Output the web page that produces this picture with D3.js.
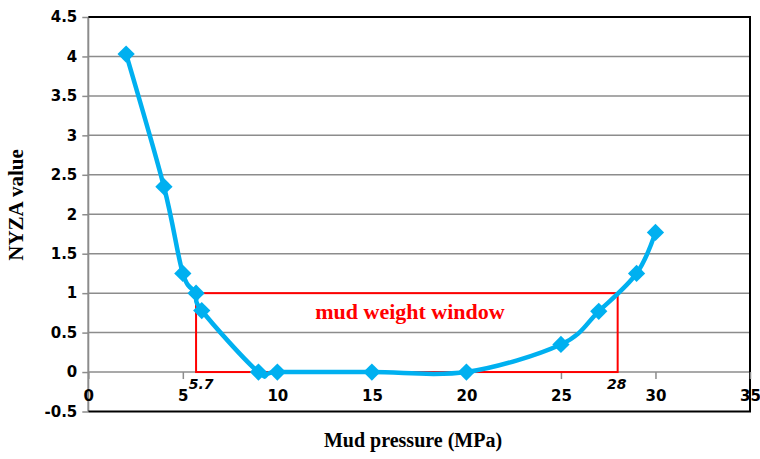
<!DOCTYPE html>
<html>
<head>
<meta charset="utf-8">
<script src="https://cdn.jsdelivr.net/npm/d3@7"></script>
<style>
  body { margin: 0; background: #fff; }
  svg { display: block; }
  .tk { font-family: "DejaVu Sans", sans-serif; font-weight: 700; font-size: 15px; fill: #000; }
</style>
</head>
<body>
<svg id="chart" width="760" height="459"></svg>
<script>
// data
var pressure = [2, 4, 5, 5.7, 6, 9, 10, 15, 20, 25, 27, 29, 30];
var nyza = [4.03, 2.35, 1.25, 1.0, 0.78, 0, 0, 0, 0, 0.35, 0.77, 1.25, 1.77];
var xTicks = [0, 5, 10, 15, 20, 25, 30, 35];
var yTicks = [-0.5, 0, 0.5, 1, 1.5, 2, 2.5, 3, 3.5, 4, 4.5];
var windowLow = 5.7, windowHigh = 28;
var windowTop = 1, windowBottom = 0;

var svg = d3.select("#chart");
var x = d3.scaleLinear().domain([0, 35]).range([88.3, 750]);
var y = d3.scaleLinear().domain([-0.5, 4.5]).range([411.5, 17]);
var serif = "'Liberation Serif', 'DejaVu Serif', serif";

// horizontal grid
svg.append("g").selectAll("line").data(yTicks.filter(function(d){ return d > -0.5 && d < 4.5; }))
  .enter().append("line")
  .attr("x1", x(0)).attr("x2", x(35))
  .attr("y1", function(d){ return y(d); }).attr("y2", function(d){ return y(d); })
  .attr("stroke", "#8c8c8c").attr("stroke-width", 1.5);

// frame: left gray, others black
svg.append("line").attr("x1", x(0)).attr("x2", x(0)).attr("y1", y(4.5)).attr("y2", y(-0.5))
  .attr("stroke", "#8c8c8c").attr("stroke-width", 2);
svg.append("path")
  .attr("d", "M" + x(0) + "," + y(4.5) + "H" + x(35) + "V" + y(-0.5) + "H" + x(0))
  .attr("fill", "none").attr("stroke", "#000").attr("stroke-width", 2);

// y axis ticks + labels
var yAxis = d3.axisLeft(y).tickValues(yTicks).tickSize(6).tickPadding(5)
  .tickFormat(function(d){ return String(d); });
var gy = svg.append("g").attr("transform", "translate(" + x(0) + ",0)").call(yAxis);
gy.select(".domain").remove();
gy.attr("font-family", null).attr("font-size", null);
gy.selectAll("line").attr("stroke", "#8c8c8c").attr("stroke-width", 1.5);
gy.selectAll("text").attr("class", "tk").attr("fill", null);

// x axis on zero line
var xAxis = d3.axisBottom(x).tickValues(xTicks).tickSize(7).tickPadding(11)
  .tickFormat(d3.format("d"));
var gx = svg.append("g").attr("transform", "translate(0," + y(0) + ")").call(xAxis);
gx.select(".domain").remove();
gx.attr("font-family", null).attr("font-size", null);
gx.selectAll("line").attr("stroke", "#8c8c8c").attr("stroke-width", 1.5);
gx.selectAll("text").attr("class", "tk").attr("fill", null);

// mud weight window
svg.append("rect")
  .attr("x", x(windowLow)).attr("y", y(windowTop))
  .attr("width", x(windowHigh) - x(windowLow)).attr("height", y(windowBottom) - y(windowTop))
  .attr("fill", "none").attr("stroke", "#ff0000").attr("stroke-width", 2);

svg.append("text").attr("x", 410).attr("y", 319)
  .attr("text-anchor", "middle").attr("font-family", serif).attr("font-weight", "bold")
  .attr("font-size", 22).attr("fill", "#ff0000").text("mud weight window");

svg.append("text").attr("class", "tk").attr("x", x(windowLow) + 5).attr("y", 389)
  .attr("text-anchor", "middle").style("font-style", "italic").style("font-size", "14px")
  .text(String(windowLow));
svg.append("text").attr("class", "tk").attr("x", x(windowHigh) - 1).attr("y", 389)
  .attr("text-anchor", "middle").style("font-style", "italic").style("font-size", "14px")
  .text(String(windowHigh));

// series
var pts = pressure.map(function(p, i){ return [p, nyza[i]]; });
var line = d3.line().x(function(d){ return x(d[0]); }).y(function(d){ return y(d[1]); })
  .curve(d3.curveCardinal.tension(0));
svg.append("path").datum(pts).attr("d", line)
  .attr("fill", "none").attr("stroke", "#00b0f0").attr("stroke-width", 4.5)
  .attr("stroke-linejoin", "round");

svg.append("g").selectAll("path").data(pts).enter().append("path")
  .attr("d", d3.symbol().type(d3.symbolDiamond2).size(190))
  .attr("transform", function(d){ return "translate(" + x(d[0]) + "," + y(d[1]) + ")"; })
  .attr("fill", "#00b0f0");

// axis titles
svg.append("text").attr("x", 413).attr("y", 447).attr("text-anchor", "middle")
  .attr("font-family", serif).attr("font-weight", "bold").attr("font-size", 20)
  .text("Mud pressure (MPa)");
svg.append("text").attr("transform", "translate(23,205) rotate(-90)")
  .attr("text-anchor", "middle").attr("font-family", serif).attr("font-weight", "bold")
  .attr("font-size", 21).text("NYZA value");
</script>
</body>
</html>
